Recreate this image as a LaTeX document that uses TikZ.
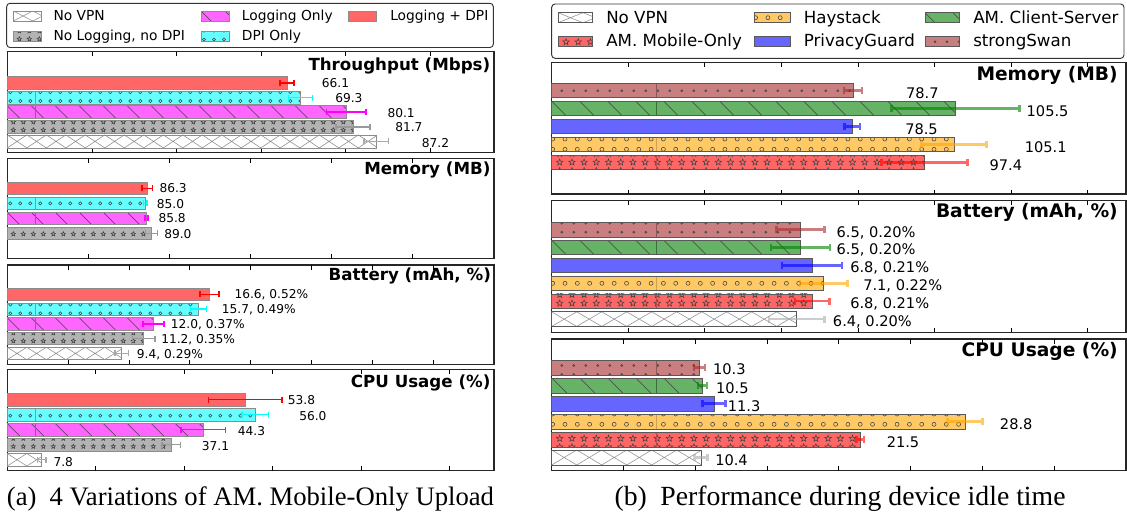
\documentclass[tikz,border=0pt]{standalone}
\usepackage{fontspec}
\setmainfont{DejaVu Sans}
\newfontfamily\capfont{Liberation Serif}

% bar fills
\definecolor{Fnovpn}{HTML}{FFFFFF}
\definecolor{Fnolog}{HTML}{B3B3B3}
\definecolor{Flogonly}{HTML}{FF66FF}
\definecolor{Flogdpi}{HTML}{FF6666}
\definecolor{Fdpionly}{HTML}{66FFFF}
\definecolor{Fhay}{HTML}{FFC966}
\definecolor{Fcs}{HTML}{66B266}
\definecolor{Fmob}{HTML}{FF6666}
\definecolor{Fpg}{HTML}{6666FF}
\definecolor{Fss}{HTML}{C97F7F}
% error bar colours
\definecolor{Rnovpn}{HTML}{AAAAAA}
\definecolor{Rnolog}{HTML}{999999}
\definecolor{Rlogonly}{HTML}{FF00FF}
\definecolor{Rlogdpi}{HTML}{FF0000}
\definecolor{Rdpionly}{HTML}{00FFFF}
\definecolor{Rhay}{HTML}{FFA500}
\definecolor{Rcs}{HTML}{008000}
\definecolor{Rmob}{HTML}{FF0000}
\definecolor{Rpg}{HTML}{0000FF}
\definecolor{Rss}{HTML}{A52A2A}
% thin seam lines inside hatched bars
\colorlet{Adpionly}{Fdpionly!70!black}
\colorlet{Alogonly}{Flogonly!70!black}
\colorlet{Ahay}{Fhay!80!black}
\colorlet{Acs}{Fcs!60!black}
\colorlet{Amob}{Fmob!75!black}
\colorlet{Ass}{Fss!70!black}
\def\artdpionly{}\def\artlogonly{}\def\arthay{}\def\artcs{}\def\artmob{}\def\artss{}

% ---------- hatch fillers: #1 x0, #2 x1, #3 top, #4 bottom, #5 row ----------
\newcommand\hatchnone[5]{}
\newcommand\hatchcross[5]{%
  \begin{scope}
    \clip (#1,#3) rectangle (#2,#4);
    \pgfmathtruncatemacro\hn{(#2-#1)/\xhp}%
    \foreach \i in {0,...,\hn}{%
      \pgfmathsetmacro\hxa{#1+\i*\xhp}%
      \pgfmathsetmacro\hxb{\hxa+\xhp}%
      \draw[hatchline, draw=black!45] (\hxa,#3) -- (\hxb,#4) (\hxb,#3) -- (\hxa,#4);
    }
  \end{scope}}
\newcommand\hatchback[5]{%
  \begin{scope}
    \clip (#1,#3) rectangle (#2,#4);
    \pgfmathsetmacro\hh{#4-#3}%
    \pgfmathtruncatemacro\hn{(#2-#1)/\bsp+2}%
    \foreach \i in {0,...,\hn}{%
      \pgfmathsetmacro\hxa{#1+(\i-1)*\bsp}%
      \pgfmathsetmacro\hxb{\hxa+\hh}%
      \draw[hatchline] (\hxa,#3) -- (\hxb,#4);
    }
  \end{scope}}
\newcommand\hatchcircles[5]{%
  \begin{scope}
    \clip (#1,#3) rectangle (#2,#4);
    \pgfmathtruncatemacro\hn{(#2-#1)/\ocol}%
    \foreach \k in {-1,0,1}{%
      \pgfmathsetmacro\hy{#5+\k*\orow}%
      \foreach \i in {0,...,\hn}{%
        \pgfmathsetmacro\hxa{#1+\ocolo+\i*\ocol}%
        \draw[hatchline] (\hxa,\hy) circle[radius=\orad];
      }}
  \end{scope}}
\newcommand\starmark[2]{%
  \draw[hatchline] (#1,#2) +(90:\sro) -- +(126:\sri) -- +(162:\sro) -- +(198:\sri)
    -- +(234:\sro) -- +(270:\sri) -- +(306:\sro) -- +(342:\sri) -- +(18:\sro)
    -- +(54:\sri) -- cycle;}
\newcommand\hatchstars[5]{%
  \begin{scope}
    \clip (#1,#3) rectangle (#2,#4);
    \pgfmathtruncatemacro\hn{(#2-#1)/\scol}%
    \foreach \k in {-1,0,1}{%
      \pgfmathsetmacro\hy{#5+\k*\srow}%
      \foreach \i in {0,...,\hn}{%
        \pgfmathsetmacro\hxa{#1+\scolo+\i*\scol}%
        \starmark{\hxa}{\hy}
      }}
  \end{scope}}
\newcommand\hatchdots[5]{%
  \begin{scope}
    \clip (#1,#3) rectangle (#2,#4);
    \pgfmathtruncatemacro\hn{(#2-#1)/\dcol}%
    \foreach \k in {-1,0,1}{%
      \pgfmathsetmacro\hy{#5+\k*\drow}%
      \foreach \i in {0,...,\hn}{%
        \pgfmathsetmacro\hxa{#1+\dcolo+\i*\dcol}%
        \draw[hatchline] (\hxa,\hy) circle[radius=\drad];
      }}
  \end{scope}}
\let\hatchnovpn\hatchcross
\let\hatchnolog\hatchstars
\let\hatchlogonly\hatchback
\let\hatchlogdpi\hatchnone
\let\hatchdpionly\hatchcircles
\let\hatchhay\hatchcircles
\let\hatchcs\hatchback
\let\hatchmob\hatchstars
\let\hatchpg\hatchnone
\let\hatchss\hatchdots

% ---------- one horizontal bar: #1 kind, #2 top, #3 bottom, #4 value, #5 error, #6 hatch row ----------
\newcommand\drawbar[6]{%
  \pgfmathsetmacro\bx{\xo+(#4)*\pxu}%
  \pgfmathsetmacro\bm{(#2+#3)/2}%
  \fill[F#1] (\xo,#2) rectangle (\bx,#3);
  \csname hatch#1\endcsname{\xo}{\bx}{#2}{#3}{#6}%
  \ifcsname art#1\endcsname
    \pgfmathtruncatemacro\artok{\bx>\artx}%
    \ifnum\artok=1 \draw[A#1, line width=0.5pt] (\artx,#2) -- (\artx,#3);\fi
  \fi
  \draw[baredge] (\xo,#2) rectangle (\bx,#3);
  \pgfmathsetmacro\ea{\bx-(#5)*\pxu}%
  \pgfmathsetmacro\eb{\bx+(#5)*\pxu}%
  \draw[errbar, R#1] (\ea,\bm) -- (\eb,\bm) (\ea,\bm-\capl) -- (\ea,\bm+\capl)
    (\eb,\bm-\capl) -- (\eb,\bm+\capl);
}
% legend swatch: #1 kind, #2 x0, #3 top, #4 x1, #5 bottom, #6 hatch row
\newcommand\legswatch[6]{%
  \fill[F#1] (#2,#3) rectangle (#4,#5);
  \csname hatch#1\endcsname{#2}{#4}{#3}{#5}{#6}%
  \draw[baredge] (#2,#3) rectangle (#4,#5);
}
% ticks on top and bottom frame: #1 top, #2 bottom, #3 values
\newcommand\axticks[3]{%
  \foreach \v in {#3}{%
    \pgfmathsetmacro\tx{\xo+\v*\pxu}%
    \draw[tick] (\tx,#1) -- ++(0,4.5) (\tx,#2) -- ++(0,-4.5);
  }}

\begin{document}
\begin{tikzpicture}[x=0.75pt, y=-0.75pt,
  panel/.style={draw=black!85, line width=0.8pt},
  tick/.style={draw=black, line width=0.6pt},
  hatchline/.style={draw=black!75, line width=0.4pt},
  legbox/.style={draw=black!80, line width=0.7pt, rounded corners=2.5pt},
  vlabL/.style={inner sep=0pt, anchor=base west, font=\fontsize{9.15}{11}\selectfont},
  vlabR/.style={inner sep=0pt, anchor=base west, font=\fontsize{10.95}{13}\selectfont},
  titL/.style={inner sep=0pt, anchor=base east, font=\fontsize{12.5}{15}\selectfont\bfseries},
  titR/.style={inner sep=0pt, anchor=base east, font=\fontsize{14}{17}\selectfont\bfseries},
  legL/.style={inner sep=0pt, anchor=base west, font=\fontsize{10.35}{12}\selectfont},
  legR/.style={inner sep=0pt, anchor=base west, font=\fontsize{12.5}{15}\selectfont},
  caption/.style={inner sep=0pt, anchor=base, font=\capfont\fontsize{20}{24}\selectfont},
  errbar/.style={line width=1.1pt},
  baredge/.style={draw=black!45, line width=0.6pt},
]
\useasboundingbox (0,0) rectangle (1127,519);

% ================= (a) four variants =================
\begin{scope}
\def\xo{7.3}\def\xr{494}
\def\xhp{19.5}\def\bsp{24}\def\ocol{10}\def\orow{8.8}\def\orad{1.6}\def\ocolo{3}
\def\scol{10}\def\srow{8}\def\sro{1.75pt}\def\sri{0.75pt}\def\scolo{6}
\def\dcol{10}\def\drow{8}\def\drad{0.8}\def\dcolo{5}
\def\artx{35}\def\capl{3}

% legend
\draw[legbox] (6.7,3.3) rectangle (493.3,47.5);
\legswatch{novpn}{13.3}{11}{41.7}{21}{}
\node[legL] (legA1) at (53.3,20) {No VPN};
\legswatch{nolog}{13.3}{31}{41.7}{41}{39}
\node[legL] (legA2) at (53.3,40) {No Logging, no DPI};
\legswatch{logonly}{201}{11}{229.3}{21}{}
\node[legL] (legA3) at (241.7,20) {Logging Only};
\legswatch{dpionly}{201}{31}{229.3}{41}{39.5}
\node[legL] (legA4) at (241.7,40) {DPI Only};
\legswatch{logdpi}{348.3}{11}{376.7}{21}{}
\node[legL] (legA5) at (390,20) {Logging + DPI};

% throughput
\def\pxu{4.232}
\draw[panel] (\xo,51.7) rectangle (\xr,152.7);
\axticks{51.7}{152.7}{20,40,60,80,100}
\drawbar{logdpi}{76.5}{89.5}{66.1}{1.65}{}
\drawbar{dpionly}{91.1}{104.1}{69.3}{2.8}{101}
\drawbar{logonly}{105.7}{118.7}{80.1}{4.7}{}
\drawbar{nolog}{120.3}{133.3}{81.7}{4.0}{130}
\drawbar{novpn}{134.9}{147.9}{87.2}{2.9}{}
\node[titL] (titA1) at (490.5,70) {Throughput (Mbps)};
\node[vlabL] (tpA1) at (321.7,87.1) {66.1};
\node[vlabL] (tpA2) at (335,102.1) {69.3};
\node[vlabL] (tpA3) at (387.3,117.1) {80.1};
\node[vlabL] (tpA4) at (395,131.1) {81.7};
\node[vlabL] (tpA5) at (421.7,147.1) {87.2};

% memory
\def\pxu{1.6223}
\draw[panel] (\xo,158.3) rectangle (\xr,258.8);
\axticks{158.3}{258.8}{50,100,150,200,250}
\drawbar{logdpi}{182.3}{194.5}{86.3}{3.2}{}
\drawbar{dpionly}{197.3}{209.5}{85.0}{1.2}{203.4}
\drawbar{logonly}{212.3}{224.5}{85.8}{0.9}{}
\drawbar{nolog}{227.3}{239.5}{89.0}{3.7}{234}
\node[titL] (titA2) at (490.7,174) {Memory (MB)};
\node[vlabL] (mmA1) at (159.3,192.7) {86.3};
\node[vlabL] (mmA2) at (156.7,208.4) {85.0};
\node[vlabL] (mmA3) at (158.3,222.7) {85.8};
\node[vlabL] (mmA4) at (164,238.4) {89.0};

% battery
\def\pxu{12.1675}
\draw[panel] (\xo,265) rectangle (\xr,364.3);
\axticks{265}{364.3}{5,10,15,20,25,30,35}
\drawbar{logdpi}{288.3}{300.6}{16.6}{0.78}{}
\drawbar{dpionly}{303.05}{315.35}{15.7}{0.66}{313.3}
\drawbar{logonly}{317.8}{330.1}{12.0}{0.86}{}
\drawbar{nolog}{332.55}{344.85}{11.2}{0.92}{341}
\drawbar{novpn}{347.3}{359.6}{9.4}{0.55}{}
\node[titL] (titA3) at (491.2,280.7) {Battery (mAh, \%)};
\node[vlabL] (btA1) at (234.3,298.7) {16.6, 0.52\%};
\node[vlabL] (btA2) at (221.7,313.7) {15.7, 0.49\%};
\node[vlabL] (btA3) at (170.7,328.4) {12.0, 0.37\%};
\node[vlabL] (btA4) at (161,343.7) {11.2, 0.35\%};
\node[vlabL] (btA5) at (136.7,358.7) {9.4, 0.29\%};

% cpu
\def\pxu{4.4245}
\draw[panel] (\xo,369.5) rectangle (\xr,470.5);
\axticks{369.5}{470.5}{20,40,60,80,100}
\drawbar{logdpi}{393.5}{406}{53.8}{8.3}{}
\drawbar{dpionly}{408.5}{421}{56.0}{3.0}{415.7}
\drawbar{logonly}{423.5}{436}{44.3}{5.0}{}
\drawbar{nolog}{438.5}{451}{37.1}{2.1}{446.5}
\drawbar{novpn}{453.5}{466}{7.8}{0.95}{}
\node[titL] (titA4) at (490.7,387) {CPU Usage (\%)};
\node[vlabL] (cpA1) at (287.7,404.4) {53.8};
\node[vlabL] (cpA2) at (299,420.4) {56.0};
\node[vlabL] (cpA3) at (237.7,435.1) {44.3};
\node[vlabL] (cpA4) at (201.7,450.1) {37.1};
\node[vlabL] (cpA5) at (53.3,466.1) {7.8};
\end{scope}

% ================= (b) idle time =================
\begin{scope}
\tikzset{errbar/.style={line width=1.9pt, opacity=0.6},
         baredge/.style={draw=black!65, line width=0.6pt}}
\def\xo{551.7}\def\xr{1126}
\def\xhp{25}\def\bsp{28}\def\ocol{12.3}\def\orow{10.3}\def\orad{2}\def\ocolo{1}
\def\scol{12.2}\def\srow{8.5}\def\sro{2.5pt}\def\sri{1.05pt}\def\scolo{8}
\def\dcol{12}\def\drow{9}\def\drad{1}\def\dcolo{10}
\def\artx{656.4}\def\capl{3.5}

% legend
\draw[legbox] (551.7,4) rectangle (1124,58.3);
\legswatch{novpn}{558}{12.7}{592.5}{22.7}{}
\node[legR] (legB1) at (606,23.3) {No VPN};
\legswatch{mob}{558}{36.7}{592.5}{46.7}{42}
\node[legR] (legB2) at (606,46.7) {AM. Mobile-Only};
\legswatch{hay}{754.6}{12.7}{790}{22.7}{17.7}
\node[legR] (legB3) at (803.6,23.3) {Haystack};
\legswatch{pg}{754.6}{36.7}{790}{46.7}{}
\node[legR] (legB4) at (803.6,46.7) {PrivacyGuard};
\legswatch{cs}{925}{12.7}{959.5}{22.7}{}
\node[legR] (legB5) at (973,23.3) {AM. Client-Server};
\legswatch{ss}{925}{36.7}{959.5}{46.7}{41.7}
\node[legR] (legB6) at (973,46.7) {strongSwan};

% memory
\def\pxu{3.8287}
\draw[panel] (\xo,62.5) rectangle (\xr,194);
\axticks{62.5}{194}{20,40,60,80,100,120,140}
\drawbar{ss}{83.3}{97.7}{78.7}{2.4}{90.7}
\drawbar{cs}{101.3}{115.7}{105.5}{16.7}{}
\drawbar{pg}{119.3}{133.7}{78.5}{2.0}{}
\drawbar{hay}{137.3}{151.7}{105.1}{8.5}{149.3}
\drawbar{mob}{155.3}{169.7}{97.4}{11.2}{162.3}
\node[titR] (titB1) at (1118,80.7) {Memory (MB)};
\node[vlabR] (mmB1) at (905.8,98) {78.7};
\node[vlabR] (mmB2) at (1026.4,116) {105.5};
\node[vlabR] (mmB3) at (905,134.6) {78.5};
\node[vlabR] (mmB4) at (1024.6,152.6) {105.1};
\node[vlabR] (mmB5) at (989.3,170.6) {97.4};

% battery
\def\pxu{38.287}
\draw[panel] (\xo,200.5) rectangle (\xr,332.3);
\axticks{200.5}{332.3}{2,4,6,8,10,12,14}
\drawbar{ss}{222.3}{236.9}{6.5}{0.63}{232.3}
\drawbar{cs}{240.2}{254.8}{6.5}{0.77}{}
\drawbar{pg}{258.1}{272.7}{6.8}{0.78}{}
\drawbar{hay}{276.0}{290.6}{7.1}{0.62}{283.3}
\drawbar{mob}{293.9}{308.5}{6.8}{0.45}{303.3}
\drawbar{novpn}{311.8}{326.4}{6.4}{0.73}{}
\node[titR] (titB2) at (1118,217.7) {Battery (mAh, \%)};
\node[vlabR] (btB1) at (836.4,237) {6.5, 0.20\%};
\node[vlabR] (btB2) at (836.4,254.3) {6.5, 0.20\%};
\node[vlabR] (btB3) at (850,272.6) {6.8, 0.21\%};
\node[vlabR] (btB4) at (863,290.3) {7.1, 0.22\%};
\node[vlabR] (btB5) at (850,308.6) {6.8, 0.21\%};
\node[vlabR] (btB6) at (832.7,326.3) {6.4, 0.20\%};

% cpu
\def\pxu{14.3575}
\draw[panel] (\xo,339) rectangle (\xr,470.5);
\axticks{339}{470.5}{5,10,15,20,25,30,35}
\drawbar{ss}{360}{375}{10.3}{0.39}{365.5}
\drawbar{cs}{378}{393}{10.5}{0.32}{}
\drawbar{pg}{396}{411}{11.3}{0.8}{}
\drawbar{hay}{414}{429}{28.8}{1.22}{424.3}
\drawbar{mob}{432}{447}{21.5}{0.26}{438.5}
\drawbar{novpn}{450}{465}{10.4}{0.45}{}
\node[titR] (titB3) at (1118,356.7) {CPU Usage (\%)};
\node[vlabR] (cpB1) at (712.8,374.6) {10.3};
\node[vlabR] (cpB2) at (715.8,393) {10.5};
\node[vlabR] (cpB3) at (727.6,411.3) {11.3};
\node[vlabR] (cpB4) at (999.7,429.6) {28.8};
\node[vlabR] (cpB5) at (886.5,447) {21.5};
\node[vlabR] (cpB6) at (715,465.3) {10.4};
\end{scope}

% captions
\node[caption] (capA) at (250.5,505.5) {(a)\hspace{0.49em}4 Variations of AM. Mobile-Only Upload};
\node[caption, font=\capfont\fontsize{20.8}{25}\selectfont] (capB) at (840,505.5) {(b)\hspace{0.49em}Performance during device idle time};
\end{tikzpicture}
\end{document}
